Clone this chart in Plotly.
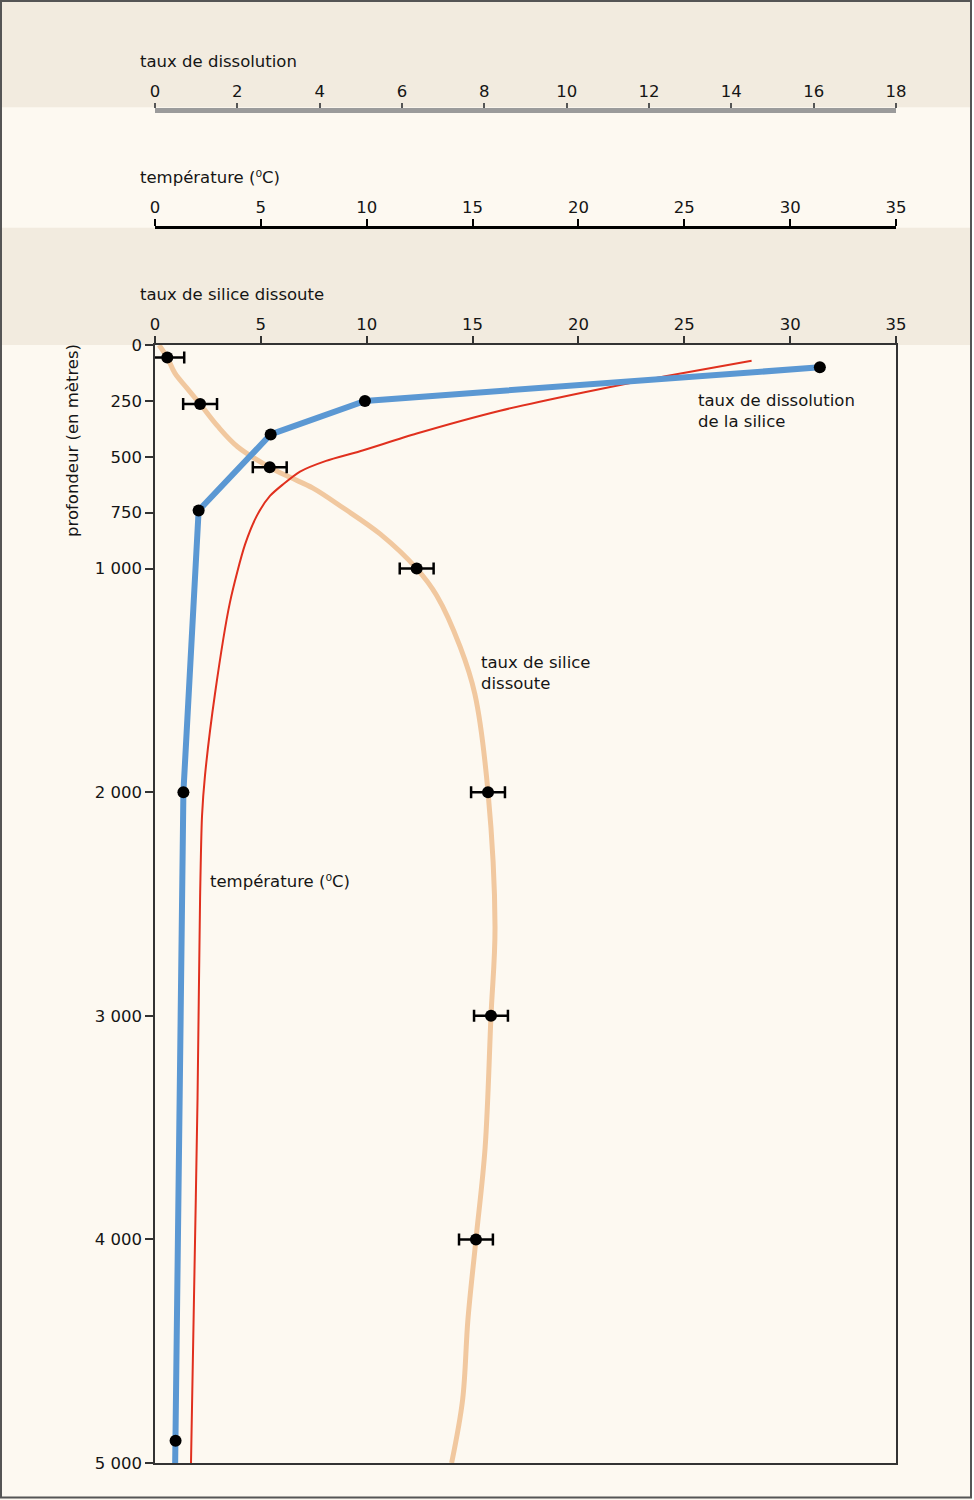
import plotly.graph_objects as go

# ---------------- data ----------------
# silica dissolved (taux de silice dissoute) – measured points with error bars
silice_pt_depth = [56, 264, 547, 1000, 2000, 3000, 4000]
silice_pt_value = [0.58, 2.13, 5.42, 12.36, 15.73, 15.87, 15.16]
silice_pt_err = [0.8, 0.8, 0.8, 0.8, 0.8, 0.8, 0.8]

# silica dissolved – smooth profile
silice_curve_depth = [0, 56, 126, 192, 264, 362, 455, 547, 592, 640, 728, 845, 1000,
                      1121, 1349, 1562, 2000, 2601, 3000, 3593, 4000, 4359, 4717, 5000]
silice_curve_value = [0.19, 0.58, 0.94, 1.50, 2.13, 2.95, 3.90, 5.42, 6.38, 7.46, 8.88, 10.63, 12.36,
                      13.31, 14.41, 15.11, 15.73, 16.06, 15.87, 15.59, 15.16, 14.78, 14.53, 14.01]

# dissolution rate of silica (taux de dissolution de la silice)
dissol_pt_depth = [100, 250, 400, 740, 2000, 4900]
dissol_pt_value = [16.15, 5.10, 2.81, 1.06, 0.69, 0.50]
dissol_line_depth = [100, 250, 400, 740, 2000, 4900, 5000]
dissol_line_value = [16.15, 5.10, 2.81, 1.06, 0.69, 0.50, 0.49]

# temperature (°C)
temp_depth = [70, 139, 212, 294, 396, 475, 518, 566, 623, 675, 762, 893, 1151, 1562,
              1927, 2108, 2466, 3367, 4269, 5000]
temp_value = [28.18, 24.17, 20.23, 16.30, 12.36, 9.68, 8.08, 6.85, 6.05, 5.43, 4.82, 4.25, 3.54, 2.83,
              2.36, 2.22, 2.13, 2.01, 1.84, 1.70]

depth_ticks = [0, 250, 500, 750, 1000, 2000, 3000, 4000, 5000]
depth_ticktext = ["0", "250", "500", "750", "1 000", "2 000", "3 000", "4 000", "5 000"]
silice_ticks = [0, 5, 10, 15, 20, 25, 30, 35]
temp_ticks = [0, 5, 10, 15, 20, 25, 30, 35]
dissol_ticks = [0, 2, 4, 6, 8, 10, 12, 14, 16, 18]

# ---------------- styling / layout helpers ----------------
W, H = 974, 1500
L, R, T, B = 155, 78, 0, 37
PW, PH = W - L - R, H - T - B


def px_x(x):
    return (x - L) / PW


def px_y(y):
    return 1 - (y - T) / PH


BAND = "#f2ebdf"
LIGHT = "#fdf9f1"
BLUE = "#5b98d3"
TAN = "#f1c89f"
RED = "#e0301e"
TXT = "#151515"
FONT = "DejaVu Sans"
FS = 16.5

fig = go.Figure()

fig.add_trace(go.Scatter(x=dissol_line_value, y=dissol_line_depth, xaxis="x3", yaxis="y",
                         mode="lines", line=dict(color=BLUE, width=6), hoverinfo="skip"))
fig.add_trace(go.Scatter(x=silice_curve_value, y=silice_curve_depth, xaxis="x", yaxis="y",
                         mode="lines", line=dict(color=TAN, width=5, shape="spline", smoothing=1.0),
                         hoverinfo="skip"))
fig.add_trace(go.Scatter(x=temp_value, y=temp_depth, xaxis="x2", yaxis="y",
                         mode="lines", line=dict(color=RED, width=2, shape="spline", smoothing=0.7),
                         hoverinfo="skip"))
fig.add_trace(go.Scatter(x=dissol_pt_value, y=dissol_pt_depth, xaxis="x3", yaxis="y",
                         mode="markers", marker=dict(color="black", size=12)))
fig.add_trace(go.Scatter(x=silice_pt_value, y=silice_pt_depth, xaxis="x", yaxis="y",
                         mode="markers", marker=dict(color="black", size=12),
                         error_x=dict(type="data", array=silice_pt_err, color="black",
                                      thickness=2.5, width=6)))

plot_top = px_y(345)

axis_font = dict(family=FONT, size=FS, color=TXT)

fig.update_layout(
    width=W, height=H,
    margin=dict(l=L, r=R, t=T, b=B, autoexpand=False),
    paper_bgcolor=LIGHT, plot_bgcolor=LIGHT,
    showlegend=False,
    font=dict(family=FONT, size=FS, color=TXT),
    yaxis=dict(domain=[0, plot_top], range=[5000, 0], anchor="x", side="left",
               tickvals=depth_ticks, ticktext=depth_ticktext, ticks="outside", ticklen=8,
               tickwidth=1.5, tickcolor="#333", showline=True, linecolor="#333", linewidth=1.5,
               mirror=True, showgrid=False, zeroline=False, tickfont=axis_font),
    xaxis=dict(domain=[0, 1], range=[0, 35], anchor="y", side="top",
               tickvals=silice_ticks, ticks="outside", ticklen=7, tickwidth=1.5, tickcolor="#333",
               showline=True, linecolor="#333", linewidth=1.5, mirror=True,
               showgrid=False, zeroline=False, tickfont=axis_font),
    xaxis2=dict(domain=[0, 1], range=[0, 35], overlaying="x", anchor="free", position=px_y(227),
                side="top", tickvals=temp_ticks, ticks="outside", ticklen=7, tickwidth=1.5,
                tickcolor="black", showline=True, linecolor="black", linewidth=2.5,
                showgrid=False, zeroline=False, tickfont=axis_font),
    xaxis3=dict(domain=[0, 1], range=[0, 18], overlaying="x", anchor="free", position=px_y(110.3),
                side="top", tickvals=dissol_ticks, ticks="outside", ticklen=5, tickwidth=1.5,
                tickcolor="#555", showline=True, linecolor="#9b9b9b", linewidth=5,
                showgrid=False, zeroline=False, tickfont=axis_font),
)

shapes = [
    dict(type="rect", xref="paper", yref="paper", x0=px_x(0), x1=px_x(W), y0=px_y(107.3), y1=px_y(0),
         fillcolor=BAND, line=dict(width=0), layer="below"),
    dict(type="rect", xref="paper", yref="paper", x0=px_x(0), x1=px_x(W), y0=px_y(345), y1=px_y(227.7),
         fillcolor=BAND, line=dict(width=0), layer="below"),
    dict(type="rect", xref="paper", yref="paper", x0=px_x(1), x1=px_x(971), y0=px_y(1497.5), y1=px_y(1),
         fillcolor="rgba(0,0,0,0)", line=dict(color="#555", width=2), layer="above"),
    dict(type="rect", xref="paper", yref="paper", x0=px_x(972), x1=px_x(W), y0=px_y(H), y1=px_y(0),
         fillcolor="white", line=dict(width=0), layer="above"),
]
fig.update_layout(shapes=shapes)

ann = []


def add_text(text, x, y, angle=0, xanchor="left"):
    ann.append(dict(text=text, xref="paper", yref="paper", x=px_x(x), y=px_y(y),
                    xanchor=xanchor, yanchor="middle", showarrow=False, align="left",
                    textangle=angle, font=dict(family=FONT, size=FS, color=TXT)))


add_text("taux de dissolution", 138, 61)
add_text("température (⁰C)", 138, 178)
add_text("taux de silice dissoute", 138, 295)
add_text("profondeur (en mètres)", 72, 441, angle=-90, xanchor="center")
add_text("taux de dissolution<br>de la silice", 696, 410.5)
add_text("taux de silice<br>dissoute", 479, 672.5)
add_text("température (⁰C)", 208, 881)
fig.update_layout(annotations=ann)

fig.write_html("out.html", config={"displayModeBar": False},
               post_script="document.body.style.margin='0px';")
